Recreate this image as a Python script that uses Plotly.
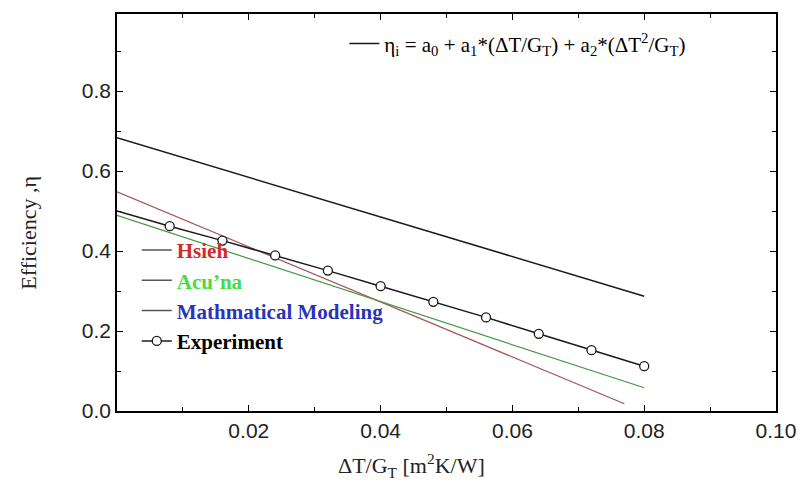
import plotly.graph_objects as go

# ---- data ----
exp_x = [0.008, 0.016, 0.024, 0.032, 0.040, 0.048, 0.056, 0.064, 0.072, 0.080]
exp_eta = [0.462, 0.426, 0.389, 0.351, 0.312, 0.273, 0.234, 0.193, 0.152, 0.112]

model_x = [0.0, 0.008, 0.016, 0.024, 0.032, 0.040, 0.048, 0.056, 0.064, 0.072, 0.080]
model_eta = [0.500, 0.462, 0.426, 0.389, 0.351, 0.312, 0.273, 0.234, 0.193, 0.152, 0.112]

eq_x = [0.0, 0.02, 0.04, 0.06, 0.08]
eq_eta = [0.683, 0.584, 0.485, 0.386, 0.287]

hsieh_x = [0.0, 0.077]
hsieh_eta = [0.548, 0.018]

acuna_x = [0.0, 0.080]
acuna_eta = [0.489, 0.058]

x_ticks = [0.02, 0.04, 0.06, 0.08, 0.10]
x_ticktext = ["0.02", "0.04", "0.06", "0.08", "0.10"]
y_ticks = [0.0, 0.2, 0.4, 0.6, 0.8]
y_ticktext = ["0.0", "0.2", "0.4", "0.6", "0.8"]

SERIF = "Liberation Serif, Times New Roman, serif"
SANS = "Liberation Sans, Arial, sans-serif"

fig = go.Figure()

# real curves
fig.add_trace(go.Scatter(x=eq_x, y=eq_eta, mode="lines",
                         line=dict(color="#1a1a1a", width=1.5),
                         name="η<sub>i</sub> = a<sub>0</sub> + a<sub>1</sub>*(ΔT/G<sub>T</sub>) + a<sub>2</sub>*(ΔT<sup>2</sup>/G<sub>T</sub>)",
                         legend="legend2", showlegend=True))
fig.add_trace(go.Scatter(x=hsieh_x, y=hsieh_eta, mode="lines",
                         line=dict(color="#a85555", width=1.2), showlegend=False))
fig.add_trace(go.Scatter(x=acuna_x, y=acuna_eta, mode="lines",
                         line=dict(color="#3f9a3f", width=1.2), showlegend=False))
fig.add_trace(go.Scatter(x=model_x, y=model_eta, mode="lines",
                         line=dict(color="#1a1a1a", width=1.5), showlegend=False))
fig.add_trace(go.Scatter(x=exp_x, y=exp_eta, mode="markers",
                         marker=dict(symbol="circle", size=9, color="white",
                                     line=dict(color="#1a1a1a", width=1.3)),
                         showlegend=False))

# legend entries
legend_gray = "#555555"
fig.add_trace(go.Scatter(x=[None], y=[None], mode="lines",
                         line=dict(color=legend_gray, width=1.5),
                         name='<b><span style="color:#d42a2a">Hsieh</span></b>'))
fig.add_trace(go.Scatter(x=[None], y=[None], mode="lines",
                         line=dict(color=legend_gray, width=1.5),
                         name='<b><span style="color:#44dd44">Acu’na</span></b>'))
fig.add_trace(go.Scatter(x=[None], y=[None], mode="lines",
                         line=dict(color=legend_gray, width=1.5),
                         name='<b><span style="color:#2a34b8">Mathmatical Modeling</span></b>'))
fig.add_trace(go.Scatter(x=[None], y=[None], mode="lines+markers",
                         line=dict(color="#1a1a1a", width=1.5),
                         marker=dict(symbol="circle", size=9, color="white",
                                     line=dict(color="#1a1a1a", width=1.3)),
                         name="<b>Experiment</b>"))

axis_common = dict(showline=True, linecolor="black", linewidth=1.5, mirror="allticks",
                   ticks="inside", ticklen=6, tickwidth=1.3, tickcolor="black",
                   showgrid=False, zeroline=False,
                   tickfont=dict(family=SANS, size=21, color="#222"))

fig.update_xaxes(range=[0, 0.1], tickmode="array", tickvals=x_ticks, ticktext=x_ticktext,
                 minor=dict(tickmode="linear", tick0=0, dtick=0.01, ticks="inside",
                            ticklen=4, tickwidth=1.2, tickcolor="black", showgrid=False),
                 **axis_common)
fig.update_yaxes(range=[0, 0.9925], tickmode="array", tickvals=y_ticks, ticktext=y_ticktext,
                 minor=dict(tickmode="linear", tick0=0, dtick=0.1, ticks="inside",
                            ticklen=4, tickwidth=1.2, tickcolor="black", showgrid=False),
                 **axis_common)

fig.update_layout(
    width=808, height=483,
    margin=dict(l=117, r=22, t=14, b=72),
    plot_bgcolor="white", paper_bgcolor="white",
    legend=dict(x=0.03, y=0.29, xanchor="left", yanchor="middle",
                bgcolor="rgba(0,0,0,0)", font=dict(family=SERIF, size=21, color="black"),
                itemwidth=30, tracegroupgap=0),
    legend2=dict(x=0.345, y=0.925, xanchor="left", yanchor="middle",
                 bgcolor="rgba(0,0,0,0)", font=dict(family=SERIF, size=21, color="black"),
                 itemwidth=30),
    annotations=[
        dict(text="ΔT/G<sub>T</sub> [m<sup>2</sup>K/W]", xref="paper", yref="paper",
             x=0.447, y=-0.1385, xanchor="center", yanchor="middle", showarrow=False,
             font=dict(family=SERIF, size=22, color="#222")),
        dict(text="Efficiency ,η", xref="paper", yref="paper", textangle=-90,
             x=-0.1345, y=0.45, xanchor="center", yanchor="middle", showarrow=False,
             font=dict(family=SERIF, size=22, color="#222")),
    ],
)

fig.write_html("out.html")
